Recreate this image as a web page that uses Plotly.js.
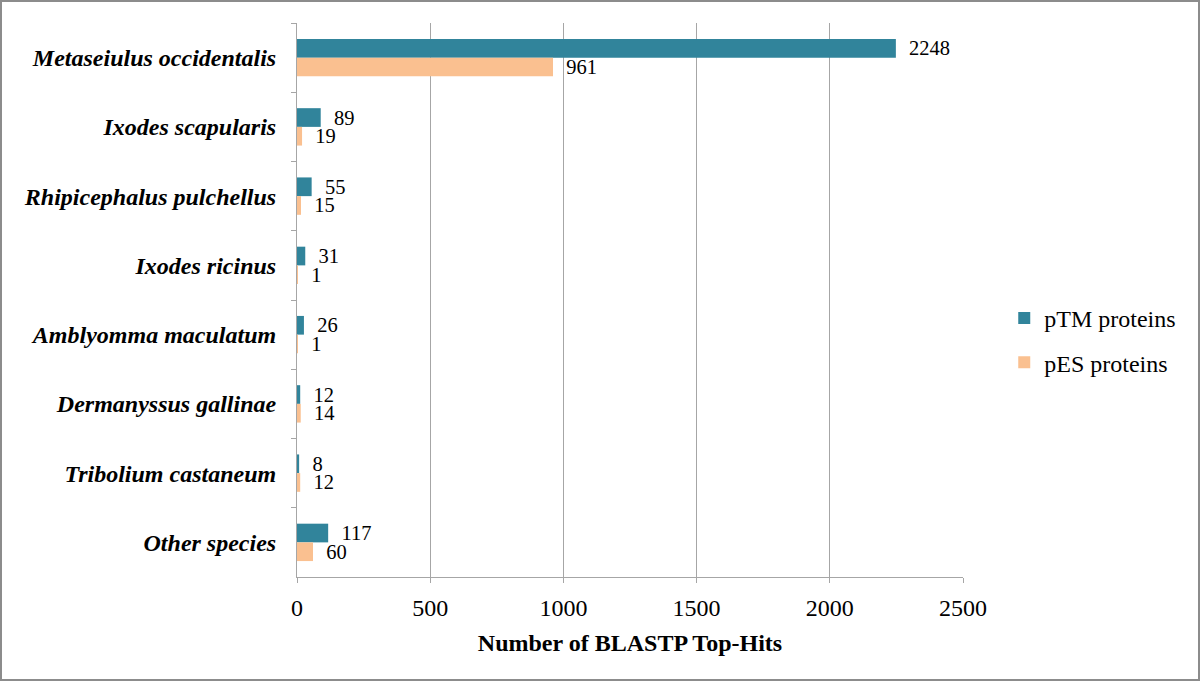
<!DOCTYPE html>
<html>
<head>
<meta charset="utf-8">
<script src="https://cdn.plot.ly/plotly-3.0.1.min.js"></script>
<style>
  body { margin: 0; background: #fff; }
  #graph { width: 1200px; height: 681px; box-sizing: border-box; border: 2px solid #8c8c8c; }
</style>
</head>
<body>
<div id="graph"></div>
<script>
// species, top to bottom
const species = ['Metaseiulus occidentalis', 'Ixodes scapularis', 'Rhipicephalus pulchellus', 'Ixodes ricinus',
  'Amblyomma maculatum', 'Dermanyssus gallinae', 'Tribolium castaneum', 'Other species']
const pTM = [2248, 89, 55, 31, 26, 12, 8, 117]
const pES = [961, 19, 15, 1, 1, 14, 12, 60]
const xTicks = [0, 500, 1000, 1500, 2000, 2500]

const serif = '"Liberation Serif", "Times New Roman", serif'
const pad = '\u00a0\u00a0'

function barTrace(name, values, colour) {
  return {
    type: 'bar',
    orientation: 'h',
    name: name,
    legendgroup: name,
    x: values,
    y: species,
    marker: { color: colour },
    text: values.map(v => pad + v),
    textposition: 'outside',
    constraintext: 'none',
    cliponaxis: false,
    textfont: { family: serif, size: 20.5, color: '#000' },
    hoverinfo: 'x+name'
  }
}

const data = [
  barTrace('pTM proteins', pTM, '#31849b'),
  barTrace('pES proteins', pES, '#fac090')
]

const layout = {
  width: 1196,
  height: 677,
  font: { family: serif, size: 24, color: '#000' },
  paper_bgcolor: '#fff',
  plot_bgcolor: '#fff',
  margin: { l: 295, r: 235, t: 21, b: 102 },
  barmode: 'group',
  bargap: 0.46,
  bargroupgap: 0,
  showlegend: true,
  legend: {
    xref: 'container', yref: 'container',
    x: 0.838, y: 0.5, xanchor: 'left', yanchor: 'middle',
    traceorder: 'grouped',
    tracegroupgap: 10,
    font: { family: serif, size: 24, color: '#000' }
  },
  xaxis: {
    range: [0, 2500],
    tickvals: xTicks,
    ticktext: xTicks.map(String),
    showgrid: true,
    gridcolor: '#a6a6a6',
    gridwidth: 1,
    zeroline: false,
    showline: true,
    linecolor: '#a6a6a6',
    ticks: 'outside',
    ticklen: 5,
    tickcolor: '#a6a6a6',
    ticklabelstandoff: 4,
    tickfont: { family: serif, size: 24 },
    title: { text: '<b>Number of BLASTP Top-Hits</b>', font: { family: serif, size: 24 }, standoff: 14 }
  },
  yaxis: {
    autorange: 'reversed',
    showgrid: false,
    zeroline: false,
    showline: true,
    linecolor: '#a6a6a6',
    ticks: 'outside',
    tickson: 'boundaries',
    ticklen: 5,
    tickcolor: '#a6a6a6',
    ticklabelstandoff: 15,
    tickfont: { family: serif, size: 24, weight: 'bold', style: 'italic' }
  }
}

const config = { displayModeBar: false, responsive: false }

Plotly.newPlot('graph', data, layout, config)
</script>
</body>
</html>
